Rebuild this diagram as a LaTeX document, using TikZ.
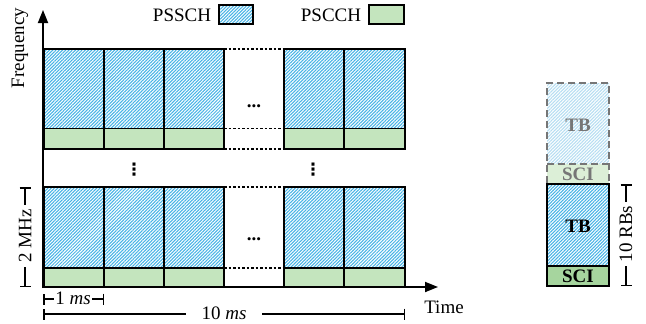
\documentclass[tikz,border=0pt]{standalone}
\usepackage{fontspec}
\setmainfont{Liberation Serif}
\newfontfamily\dejavu{DejaVu Sans}
\usetikzlibrary{patterns.meta,arrows.meta}
\definecolor{stripeblue}{HTML}{45B3E6}
\definecolor{fadeblue}{HTML}{B5DDF2}
\definecolor{sciGreen}{HTML}{C4E5BE}
\definecolor{sciDark}{HTML}{A6D59E}
\definecolor{sciFade}{HTML}{DCEFD7}
\definecolor{fadegray}{HTML}{767676}
\tikzset{
  blk/.style={draw=black, line width=1.8pt},
  tbcell/.style={blk, preaction={fill=white}, preaction={pattern={Lines[angle=45,distance=2.3pt,line width=1.05pt]}, pattern color=stripeblue}},
  scicell/.style={blk, fill=sciGreen},
  gapdots/.style={draw=black, line width=1.8pt, dash pattern=on 2.5pt off 2pt},
  axis/.style={draw=black, line width=1.8pt, -{Triangle[length=13pt,width=10pt]}},
  dim/.style={draw=black, line width=1.5pt, {Bar[width=11pt]}-{Bar[width=11pt]}},
  lbl/.style={font=\fontsize{19}{21}\selectfont, inner sep=0pt},
  blbl/.style={font=\fontsize{19}{21}\selectfont\bfseries, inner sep=0pt},
}
\begin{document}
\begin{tikzpicture}[x=1pt,y=-1pt]
\useasboundingbox (0,0) rectangle (646,324);
% cells of the two blocks
\foreach \xa/\xb in {44/104,104/164,164/224,284/344,344/405}{
  \draw[tbcell] (\xa,49) rectangle (\xb,128.5);
  \draw[scicell] (\xa,128.5) rectangle (\xb,149);
  \draw[tbcell] (\xa,187) rectangle (\xb,268);
  \draw[scicell] (\xa,268) rectangle (\xb,287);
}
% dotted continuations in the gap
\foreach \yy in {49,128.5,149,187,268}{
  \draw[gapdots] (224,\yy) -- (284,\yy);
}
\node[blbl] (hd1) at (254,106) {...};
\node[blbl] (hd2) at (254,239) {...};
\node[blbl, font=\fontsize{17}{19}\selectfont\dejavu\bfseries] (vd1) at (134,170) {⋮};
\node[blbl, font=\fontsize{17}{19}\selectfont\dejavu\bfseries] (vd2) at (313,170) {⋮};
% axes
\coordinate (origin) at (43,287);
\coordinate (ftop) at (43,10);
\coordinate (tend) at (438,287);
\draw[axis] (43,288) -- (ftop);
\draw[axis] (42.1,287) -- (tend);
\node[lbl, rotate=90] (freq) at (20,48) {Frequency};
\node[lbl] (time) at (444,307) {Time};
% legend
\node[lbl] (lpssch) at (182,15) {PSSCH};
\draw[tbcell] (219,5) rectangle (253,24);
\node[lbl] (lpscch) at (331,15) {PSCCH};
\draw[scicell] (369,5) rectangle (404,24);
% dimensions
\coordinate (mhzT) at (25,187);
\coordinate (mhzB) at (25,287);
\draw[dim] (mhzT) -- (mhzB);
\node[lbl, rotate=90, fill=white, inner xsep=4pt] (mhz) at (25,236) {2 MHz};
\coordinate (msL) at (43,299);
\coordinate (msR) at (104,299);
\draw[dim] (msL) -- (msR);
\node[lbl, fill=white, inner xsep=1pt, inner ysep=1pt] (ms1) at (73,298) {1 \textit{ms}};
\coordinate (tenL) at (43,314);
\coordinate (tenR) at (405,314);
\draw[dim] (tenL) -- (tenR);
\node[lbl, fill=white, inner xsep=16pt, inner ysep=1pt] (ms10) at (224,313) {10 \textit{ms}};
% right side illustration
\path[preaction={fill=white}, pattern={Lines[angle=45,distance=2.3pt,line width=1.05pt]}, pattern color=fadeblue] (547,83) rectangle (609,164);
\fill[sciFade] (547,164) rectangle (609,183);
\draw[fadegray, line width=2.4pt, dash pattern=on 7pt off 4pt] (547,183) -- (547,83) -- (609,83) -- (609,183);
\draw[fadegray, line width=2.4pt, dash pattern=on 7pt off 4pt] (547,164) -- (609,164);
\node[blbl, text=fadegray] (tbf) at (578,125) {TB};
\node[blbl, text=fadegray] (scif) at (578,174) {SCI};
\draw[tbcell] (547,184) rectangle (609,266);
\draw[blk, fill=sciDark] (547,266) rectangle (609,286);
\node[blbl] (tb) at (578,226) {TB};
\node[blbl] (sci) at (578,276.5) {SCI};
\coordinate (rbT) at (626,184);
\coordinate (rbB) at (626,286);
\draw[dim] (rbT) -- (rbB);
\node[lbl, rotate=90, fill=white, inner xsep=4pt] (rbs) at (626,234) {10 RBs};
\end{tikzpicture}
\end{document}
